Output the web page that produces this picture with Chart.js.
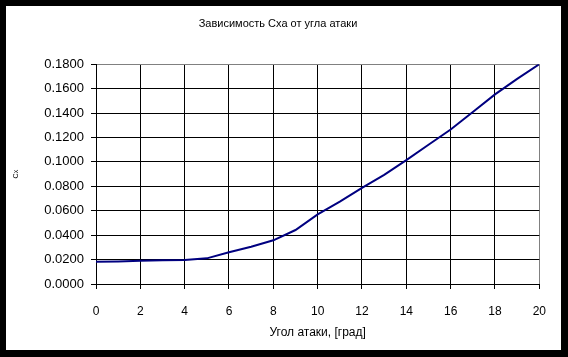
<!DOCTYPE html>
<html>
<head>
<meta charset="utf-8">
<script src="https://cdn.jsdelivr.net/npm/chart.js@4.4.1/dist/chart.umd.min.js"></script>
<style>
  html, body { margin: 0; padding: 0; background: #000; width: 568px; height: 357px; overflow: hidden; }
  #wrap { position: absolute; left: 6px; top: 6px; width: 555px; height: 344px; background: #fff; }
  canvas { display: block; }
</style>
</head>
<body>
<div id="wrap"><canvas id="c" width="555" height="344"></canvas></div>
<script>
const chartTitle = 'Зависимость Сха от угла атаки';
const xTitle = 'Угол атаки, [град]';
const yTitle = 'Сх';
const angles = [0, 1, 2, 3, 4, 5, 6, 7, 8, 9, 10, 11, 12, 13, 14, 15, 16, 17, 18, 19, 20];
const cxa = [0.0183, 0.0185, 0.0191, 0.0194, 0.0196, 0.0210, 0.0260, 0.0305, 0.0358, 0.0442, 0.0570,
             0.0674, 0.0787, 0.0893, 0.1014, 0.1140, 0.1265, 0.1408, 0.1553, 0.1680, 0.1800];

const points = angles.map((a, i) => ({ x: a, y: cxa[i] }));
const FONT = 'Liberation Sans, Arial, sans-serif';

new Chart(document.getElementById('c'), {
  type: 'line',
  data: {
    datasets: [{
      data: points,
      borderColor: '#000080',
      borderWidth: 2,
      pointRadius: 0,
      tension: 0,
      fill: false
    }]
  },
  options: {
    responsive: false,
    animation: false,
    layout: { padding: { left: 0, right: 11, top: 0, bottom: 0 } },
    plugins: {
      legend: { display: false },
      tooltip: { enabled: false },
      title: {
        display: true,
        text: chartTitle,
        color: '#000',
        font: { family: FONT, size: 11, weight: 'normal' },
        padding: { top: 11, bottom: 34 }
      }
    },
    scales: {
      x: {
        type: 'linear',
        min: 0, max: 20,
        ticks: { stepSize: 2, color: '#000', font: { family: FONT, size: 12 }, padding: 15, maxRotation: 0 },
        grid: {
          color: ctx => ctx.index === 10 ? '#808080' : '#000',
          lineWidth: 1,
          tickLength: 5,
          tickColor: '#000'
        },
        border: { color: '#000', width: 1 },
        title: { display: true, text: xTitle, color: '#000', font: { family: FONT, size: 12 }, padding: { top: 4, bottom: 10 } },
        afterFit: s => { s.height = 66; }
      },
      y: {
        min: 0, max: 0.18,
        ticks: { stepSize: 0.02, color: '#000', font: { family: FONT, size: 13 }, padding: 7,
                 callback: v => Number(v).toFixed(4) },
        grid: {
          color: ctx => ctx.index === 9 ? '#808080' : '#000',
          lineWidth: 1,
          tickLength: 5,
          tickColor: '#000'
        },
        border: { color: '#000', width: 1 },
        title: { display: true, text: yTitle, color: '#000', font: { family: FONT, size: 7 }, padding: { top: 6, bottom: 0 } },
        afterFit: s => { s.width = 90; }
      }
    }
  }
});
</script>
</body>
</html>
